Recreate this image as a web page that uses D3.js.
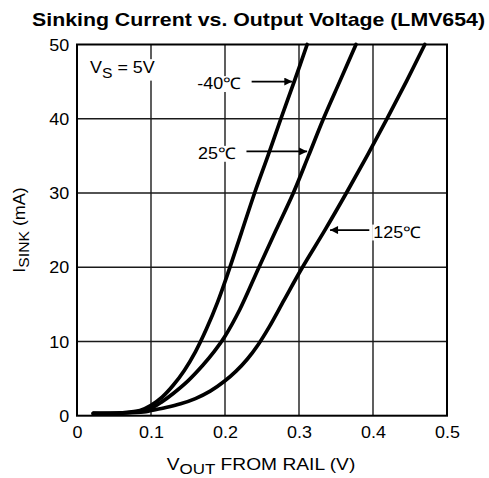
<!DOCTYPE html>
<html><head><meta charset="utf-8">
<script src="https://cdn.jsdelivr.net/npm/d3@7"></script>
<style>body{margin:0;background:#fff}svg{display:block}text{font-family:"Liberation Sans",Arial,sans-serif;fill:#000}</style>
</head><body><svg id="c" width="489" height="478"></svg>
<script>
const xTicks = [0, 0.1, 0.2, 0.3, 0.4, 0.5];
const yTicks = [0, 10, 20, 30, 40, 50];
const seriesNames = ["-40℃", "25℃", "125℃"];
const vMinus40 = [[0.022,0.3],[0.06,0.4],[0.085,0.7],[0.1,1.4],[0.115,2.5],[0.13,4.1],[0.145,6.1],[0.16,8.6],[0.175,11.7],[0.19,15.3],[0.205,19.5],[0.222,24.6],[0.24,30],[0.258,35],[0.2755,40],[0.2935,45],[0.311,50]];
const v25 = [[0.022,0.3],[0.06,0.35],[0.085,0.6],[0.1,1.0],[0.115,1.9],[0.13,3.0],[0.15,4.7],[0.17,6.8],[0.185,8.6],[0.2,10.7],[0.22,14.3],[0.245,19.8],[0.269,25],[0.2923,30],[0.3128,35],[0.333,40],[0.355,45],[0.377,50]];
const v125 = [[0.022,0.3],[0.06,0.35],[0.09,0.5],[0.1,0.7],[0.12,1.1],[0.14,1.6],[0.16,2.3],[0.18,3.3],[0.2,4.7],[0.215,6.0],[0.23,7.6],[0.245,9.6],[0.26,12],[0.28,15.6],[0.3035,19.8],[0.335,25],[0.364,30],[0.392,35],[0.419,40],[0.445,45],[0.47,50]];
// annotation arrows: label text, arrow y value, arrow start / end x values
const labels = [
  {t:"-40℃", ay:45.0, ax1:0.236, ax2:0.291, side:"left"},
  {t:"25℃",  ay:35.6, ax1:0.229, ax2:0.311, side:"left"},
  {t:"125℃", ay:25.0, ax1:0.395, ax2:0.342, side:"right"}
];

const SX = 1.12;           // horizontal stretch of the reference lettering
const FS = 16;
const svg = d3.select("#c");
const L=77, R=447, T=44.5, B=415.7;
const x = d3.scaleLinear().domain([0,0.5]).range([L,R]);
const y = d3.scaleLinear().domain([0,50]).range([B,T]);

svg.append("text").attr("x",32).attr("y",25.5)
  .attr("textLength",453).attr("lengthAdjust","spacingAndGlyphs")
  .style("font-weight","bold").style("font-size","18.5px").text("Sinking Current vs. Output Voltage (LMV654)");

// grid
const g = svg.append("g");
g.selectAll(".vx").data(xTicks.slice(1,-1)).join("line")
  .attr("x1",d=>x(d)).attr("x2",d=>x(d)).attr("y1",T).attr("y2",B)
  .attr("stroke","#1a1a1a").attr("stroke-width",1.4);
g.selectAll(".hy").data(yTicks.slice(1,-1)).join("line")
  .attr("y1",d=>y(d)).attr("y2",d=>y(d)).attr("x1",L).attr("x2",R)
  .attr("stroke","#1a1a1a").attr("stroke-width",1.4);

const lab = svg.append("g");

// axes
const xAxis = d3.axisBottom(x).tickValues(xTicks).tickSize(0).tickFormat(d=>d===0?"0":d3.format(".1f")(d));
const yAxis = d3.axisLeft(y).tickValues(yTicks).tickSize(0).tickPadding(7).tickFormat(d3.format("d"));
const gx = svg.append("g").attr("transform",`translate(0,${B})`).call(xAxis);
const gy = svg.append("g").attr("transform",`translate(${L},0)`).call(yAxis);
[gx,gy].forEach(a=>{a.select(".domain").remove();a.selectAll("text").style("font-size",FS+"px").style("font-family","Liberation Sans, Arial, sans-serif").attr("fill","#000").attr("transform",`scale(${SX},1)`);});
gx.selectAll("text").attr("y",22.8).attr("dy",0);
gy.selectAll("text").attr("dy","0.36em");

svg.append("rect").attr("x",L).attr("y",T).attr("width",R-L).attr("height",B-T)
  .attr("fill","none").attr("stroke","#000").attr("stroke-width",2);

// V_S label
const vsg = lab.append("g").attr("transform",`translate(90,73.3) scale(${SX},1)`);
const vs = vsg.append("text").style("font-size",FS+"px");
vs.append("tspan").text("V");
vs.append("tspan").attr("dy",4.5).style("font-size","14px").text("S");
vs.append("tspan").attr("dy",-4.5).text(" = 5V");
{const bb=vs.node().getBBox(); vsg.insert("rect","text").attr("x",bb.x-1).attr("y",bb.y).attr("width",bb.width+2).attr("height",bb.height).attr("fill","#fff");}

const defs = svg.append("defs");
defs.append("marker").attr("id","ah").attr("viewBox","0 0 10 10").attr("refX",10).attr("refY",5)
  .attr("markerWidth",12).attr("markerHeight",8).attr("markerUnits","userSpaceOnUse").attr("orient","auto")
  .append("path").attr("d","M0,0L10,5L0,10Z").attr("fill","#000");

labels.forEach(a=>{
  const ax = a.side==="left" ? x(a.ax1)-10.5 : x(a.ax1)+4;
  const gg = lab.append("g").attr("transform",`translate(${ax},${y(a.ay)+7.6}) scale(${SX},1)`);
  const t = gg.append("text").attr("text-anchor",a.side==="left"?"end":"start")
    .style("font-size",FS+"px").text(a.t);
  const bb = t.node().getBBox();
  gg.insert("rect","text").attr("x",bb.x-1).attr("y",bb.y+1).attr("width",bb.width+2).attr("height",bb.height-2).attr("fill","#fff");
  svg.append("line").attr("x1",x(a.ax1)).attr("x2",x(a.ax2)).attr("y1",y(a.ay)).attr("y2",y(a.ay))
    .attr("stroke","#000").attr("stroke-width",1.6).attr("marker-end","url(#ah)");
});

// curves
const line = d3.line().x(d=>x(d[0])).y(d=>y(d[1])).curve(d3.curveCatmullRom.alpha(0.5));
[vMinus40,v25,v125].forEach((s,i)=>{
  svg.append("path").datum(s).attr("d",line).attr("fill","none").attr("stroke","#000")
    .attr("stroke-width",3.7).attr("stroke-linecap","round").attr("stroke-linejoin","round")
    .attr("class","series-"+i);
});

// axis titles
const yt = svg.append("text").attr("transform",`translate(24.5,230) rotate(-90) scale(${SX},1)`).attr("text-anchor","middle").style("font-size",FS+"px");
yt.append("tspan").text("I");
yt.append("tspan").attr("dy",4.5).style("font-size","14px").text("SINK");
yt.append("tspan").attr("dy",-4.5).text(" (mA)");
const xt = svg.append("text").attr("transform",`translate(261,469.5) scale(1.13,1)`).attr("text-anchor","middle").style("font-size","17px");
xt.append("tspan").text("V");
xt.append("tspan").attr("dy",4).style("font-size","15px").text("OUT");
xt.append("tspan").attr("dy",-4).text(" FROM RAIL (V)");
</script></body></html>
